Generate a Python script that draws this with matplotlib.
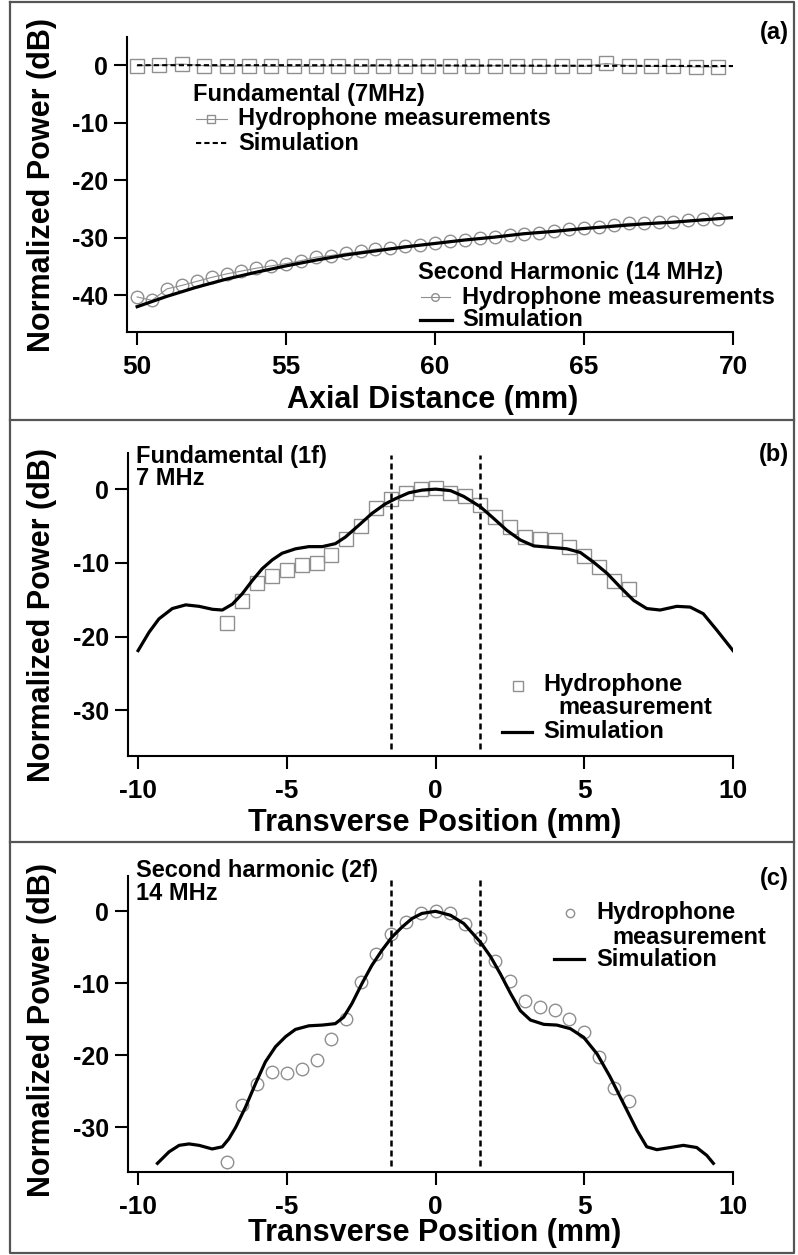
import matplotlib
matplotlib.use("Agg")
import matplotlib.pyplot as plt
from matplotlib.lines import Line2D

plt.rcParams['font.family'] = ['Liberation Sans', 'DejaVu Sans']
plt.rcParams['font.weight'] = 'bold'
plt.rcParams['axes.unicode_minus'] = False

# ---------------- data ----------------
# panel (a) : axial scans
axial_fund_x = [50.0, 50.75, 51.5, 52.25, 53.0, 53.75, 54.5, 55.25, 56.0, 56.75, 57.5, 58.25, 59.0, 59.75,
                60.5, 61.25, 62.0, 62.75, 63.5, 64.25, 65.0, 65.75, 66.5, 67.25, 68.0, 68.75, 69.5]
axial_fund_meas = [-0.1, 0.0, 0.2, -0.1, -0.2, -0.1, -0.2, -0.2, -0.2, -0.1, -0.2, -0.1, -0.2, -0.1,
                   -0.1, -0.2, -0.1, -0.1, -0.2, -0.1, -0.2, 0.3, -0.1, -0.2, -0.2, -0.3, -0.3]
axial_fund_sim_x = [50, 55, 60, 65, 70]
axial_fund_sim = [0.0, 0.0, -0.05, -0.1, -0.15]

axial_sh_x = [50.0, 50.5, 51.0, 51.5, 52.0, 52.5, 53.0, 53.5, 54.0, 54.5, 55.0, 55.5, 56.0, 56.5,
              57.0, 57.5, 58.0, 58.5, 59.0, 59.5, 60.0, 60.5, 61.0, 61.5, 62.0, 62.5, 63.0, 63.5,
              64.0, 64.5, 65.0, 65.5, 66.0, 66.5, 67.0, 67.5, 68.0, 68.5, 69.0, 69.5]
axial_sh_meas = [-40.3, -40.9, -38.9, -38.3, -37.6, -36.9, -36.3, -35.8, -35.3, -34.9, -34.5, -34.0,
                 -33.4, -33.1, -32.7, -32.4, -32.0, -31.8, -31.4, -31.2, -31.0, -30.6, -30.4, -30.1,
                 -29.8, -29.5, -29.4, -29.1, -28.8, -28.5, -28.3, -28.1, -27.8, -27.5, -27.5, -27.3,
                 -27.2, -27.0, -26.8, -26.7]
axial_sh_sim_x = [50, 51, 52, 53, 54, 55, 56, 57, 58, 59, 60, 61, 62, 63, 64, 65, 66, 67, 68, 69, 70]
axial_sh_sim = [-42.0, -40.2, -38.6, -37.2, -36.0, -34.9, -33.9, -33.0, -32.3, -31.6, -31.0, -30.4,
                -29.9, -29.3, -28.9, -28.4, -28.0, -27.6, -27.3, -26.9, -26.5]

# panels (b) and (c) : transverse scans
trans_x = [-7.0, -6.5, -6.0, -5.5, -5.0, -4.5, -4.0, -3.5, -3.0, -2.5, -2.0, -1.5, -1.0, -0.5, 0.0,
           0.5, 1.0, 1.5, 2.0, 2.5, 3.0, 3.5, 4.0, 4.5, 5.0, 5.5, 6.0, 6.5]
fund_meas = [-18.1, -15.2, -12.7, -11.8, -11.0, -10.3, -10.0, -9.0, -6.8, -5.0, -2.6, -1.3, -0.5, 0.0, 0.1,
             -0.5, -1.0, -2.2, -3.8, -5.2, -6.5, -6.8, -6.9, -7.8, -9.1, -10.5, -12.4, -13.6]
sh_meas = [-34.8, -26.9, -24.0, -22.3, -22.5, -21.9, -20.6, -17.8, -14.9, -9.8, -5.9, -3.1, -1.5, -0.3, 0.1,
           -0.3, -1.7, -3.7, -6.9, -9.7, -12.4, -13.3, -13.7, -15.0, -16.8, -20.2, -24.5, -26.3]

fund_sim_x = [-10.0, -9.63, -9.3, -8.85, -8.4, -7.95, -7.5, -7.17, -6.83, -6.5, -6.16, -5.83, -5.49, -5.16,
              -4.71, -4.26, -3.81, -3.37, -3.03, -2.58, -2.14, -1.69, -1.35, -0.9, -0.46, 0.0,
              0.5, 0.95, 1.51, 1.96, 2.4, 2.85, 3.3, 3.86, 4.42, 4.87, 5.31, 5.76, 6.21, 6.66, 7.1,
              7.55, 8.11, 8.56, 9.0, 9.45, 10.0]
fund_sim = [-21.9, -19.4, -17.6, -16.2, -15.7, -15.9, -16.3, -16.4, -15.6, -14.2, -12.4, -10.8, -9.6, -8.7,
            -8.1, -7.8, -7.8, -7.4, -6.5, -4.9, -3.3, -2.0, -1.3, -0.5, -0.14, 0.0,
            -0.2, -1.0, -2.4, -4.0, -5.6, -6.9, -7.7, -7.9, -8.1, -8.6, -9.9, -11.4, -13.3, -15.1, -16.2,
            -16.4, -15.9, -16.0, -16.9, -19.1, -21.9]

sh_sim_x = [-9.35, -8.96, -8.62, -8.29, -7.95, -7.51, -7.17, -6.95, -6.72, -6.39, -6.05, -5.72, -5.38, -5.04,
            -4.71, -4.26, -3.81, -3.37, -3.09, -2.81, -2.47, -2.14, -1.8, -1.47, -1.13, -0.79, -0.46, 0.0,
            0.5, 0.95, 1.51, 1.85, 2.18, 2.52, 2.85, 3.19, 3.64, 4.08, 4.53, 4.98, 5.43, 5.87, 6.32, 6.77,
            7.1, 7.44, 7.89, 8.33, 8.78, 9.12, 9.34]
sh_sim = [-35.0, -33.4, -32.5, -32.3, -32.5, -33.0, -32.7, -31.6, -30.0, -27.2, -23.9, -20.9, -18.8, -17.4,
          -16.4, -15.9, -15.8, -15.6, -14.7, -12.8, -10.0, -7.5, -5.4, -3.6, -2.2, -1.0, -0.3, 0.0,
          -0.55, -1.7, -4.3, -6.3, -8.7, -11.4, -13.8, -15.1, -15.7, -15.8, -16.3, -17.5, -19.8, -23.0, -26.7,
          -30.4, -32.7, -33.1, -32.8, -32.5, -32.8, -33.9, -35.0]

focal_edges = [-1.5, 1.5]

# ---------------- figure ----------------
W, H = 798, 1255
fig = plt.figure(figsize=(W / 100, H / 100), dpi=100)


def fx(px):
    return px / W


def fy(py):
    return 1 - py / H


GRAY = '#8f8f8f'
SIM_LW = 2.3


def style_axes(ax, xticks, yticks, xlim, ylim):
    for s in ['top', 'right']:
        ax.spines[s].set_visible(False)
    for s in ['left', 'bottom']:
        ax.spines[s].set_linewidth(1.5)
    ax.set_xlim(xlim)
    ax.set_ylim(ylim)
    ax.set_xticks(xticks)
    ax.set_yticks(yticks)
    ax.tick_params(direction='out', length=9.5, width=1.5)
    ax.tick_params(axis='x', labelsize=19, pad=7)
    ax.tick_params(axis='y', labelsize=18, pad=4)
    for lab in ax.get_xticklabels() + ax.get_yticklabels():
        lab.set_fontweight('bold')


# ----- panel (a) -----
axa = fig.add_axes([127 / W, fy(332), 606 / W, (332 - 37) / H])
axa.plot(axial_fund_x, axial_fund_meas, color=GRAY, lw=0.8, marker='s', ms=9.5,
         mfc='none', mec=GRAY, mew=1.0)
axa.plot(axial_fund_sim_x, axial_fund_sim, color='black', lw=1.5, dashes=[2.5, 1.5])
axa.plot(axial_sh_x, axial_sh_meas, color=GRAY, lw=0.8, marker='o', ms=9,
         mfc='none', mec=GRAY, mew=1.0)
axa.plot(axial_sh_sim_x, axial_sh_sim, color='black', lw=SIM_LW)
style_axes(axa, [50, 55, 60, 65, 70], [0, -10, -20, -30, -40], (49.66, 70.0), (-46.4, 4.9))

# ----- panel (b) -----
axb = fig.add_axes([128 / W, fy(756), 605 / W, (756 - 453) / H])
axb.plot(trans_x, fund_meas, ls='none', marker='s', ms=9.5, mfc='none', mec=GRAY, mew=1.0)
axb.plot(fund_sim_x, fund_sim, color='black', lw=SIM_LW, solid_joinstyle='round')
axb.vlines(focal_edges, -35.3, 4.6, colors='black', lw=1.8, linestyles=(0, (2.4, 1.6)))
style_axes(axb, [-10, -5, 0, 5, 10], [0, -10, -20, -30], (-10.34, 10.0), (-36.2, 4.9))

# ----- panel (c) -----
axc = fig.add_axes([128 / W, fy(1172), 605 / W, (1172 - 876) / H])
axc.plot(trans_x, sh_meas, ls='none', marker='o', ms=9, mfc='none', mec=GRAY, mew=1.0)
axc.plot(sh_sim_x, sh_sim, color='black', lw=SIM_LW, solid_joinstyle='round')
axc.vlines(focal_edges, -35.3, 4.6, colors='black', lw=1.8, linestyles=(0, (2.4, 1.6)))
style_axes(axc, [-10, -5, 0, 5, 10], [0, -10, -20, -30], (-10.34, 10.0), (-36.2, 4.9))

# ----- axis labels -----
LAB = dict(fontsize=22, fontweight='bold', ha='center', va='center')
fig.text(fx(42), fy(185), 'Normalized Power (dB)', rotation=90, **LAB)
fig.text(fx(42), fy(615), 'Normalized Power (dB)', rotation=90, **LAB)
fig.text(fx(42), fy(1030), 'Normalized Power (dB)', rotation=90, **LAB)
fig.text(fx(433), fy(400), 'Axial Distance (mm)', **LAB)
fig.text(fx(435), fy(823), 'Transverse Position (mm)', **LAB)
fig.text(fx(435), fy(1233), 'Transverse Position (mm)', **LAB)

# ----- panel letters -----
TXT = dict(fontsize=17, fontweight='bold', va='center')
fig.text(fx(789), fy(32), '(a)', ha='right', **TXT)
fig.text(fx(789), fy(455), '(b)', ha='right', **TXT)
fig.text(fx(789), fy(878), '(c)', ha='right', **TXT)

# ----- in-panel titles -----
fig.text(fx(136), fy(456), 'Fundamental (1f)', ha='left', **TXT)
fig.text(fx(136), fy(478), '7 MHz', ha='left', **TXT)
fig.text(fx(136), fy(870), 'Second harmonic (2f)', ha='left', **TXT)
fig.text(fx(136), fy(894), '14 MHz', ha='left', **TXT)


def key(x0, x1, y, **style):
    fig.add_artist(Line2D([fx(x0), fx(x1)], [fy(y), fy(y)], transform=fig.transFigure, **style))


def key_marker(x, y, **style):
    fig.add_artist(Line2D([fx(x)], [fy(y)], transform=fig.transFigure, ls='none', **style))


# ----- legends (a) -----
fig.text(fx(193), fy(95), 'Fundamental (7MHz)', ha='left', **TXT)
key(196, 227, 119, color=GRAY, lw=0.8)
key_marker(211, 119, marker='s', ms=5.5, mfc='none', mec=GRAY, mew=1.0)
fig.text(fx(238), fy(119), 'Hydrophone measurements', ha='left', **TXT)
key(196, 227, 143, color='black', lw=1.5, dashes=[2.5, 1.5])
fig.text(fx(238), fy(143), 'Simulation', ha='left', **TXT)

fig.text(fx(418), fy(273), 'Second Harmonic (14 MHz)', ha='left', **TXT)
key(421, 450, 297, color=GRAY, lw=0.8)
key_marker(435, 297, marker='o', ms=5.5, mfc='none', mec=GRAY, mew=1.0)
fig.text(fx(462), fy(297), 'Hydrophone measurements', ha='left', **TXT)
key(420, 452, 320, color='black', lw=SIM_LW)
fig.text(fx(462), fy(320), 'Simulation', ha='left', **TXT)

# ----- legend (b) -----
key_marker(518, 686, marker='s', ms=7, mfc='none', mec=GRAY, mew=1.0)
fig.text(fx(543), fy(685), 'Hydrophone', ha='left', **TXT)
fig.text(fx(558), fy(707), 'measurement', ha='left', **TXT)
key(502, 532, 732, color='black', lw=SIM_LW)
fig.text(fx(543), fy(732), 'Simulation', ha='left', **TXT)

# ----- legend (c) -----
key_marker(570, 913, marker='o', ms=6, mfc='none', mec=GRAY, mew=1.0)
fig.text(fx(596), fy(913), 'Hydrophone', ha='left', **TXT)
fig.text(fx(612), fy(937), 'measurement', ha='left', **TXT)
key(554, 584, 959, color='black', lw=SIM_LW)
fig.text(fx(596), fy(959), 'Simulation', ha='left', **TXT)

# ----- frame and dividers -----
FRAME = dict(color='#555555', lw=1.6, transform=fig.transFigure)
fig.add_artist(Line2D([fx(10), fx(794), fx(794), fx(10), fx(10)],
                      [fy(2), fy(2), fy(1253), fy(1253), fy(2)], **FRAME))
fig.add_artist(Line2D([fx(10), fx(794)], [fy(420), fy(420)], **FRAME))
fig.add_artist(Line2D([fx(10), fx(794)], [fy(842), fy(842)], **FRAME))

fig.savefig('out.png', dpi=100)
